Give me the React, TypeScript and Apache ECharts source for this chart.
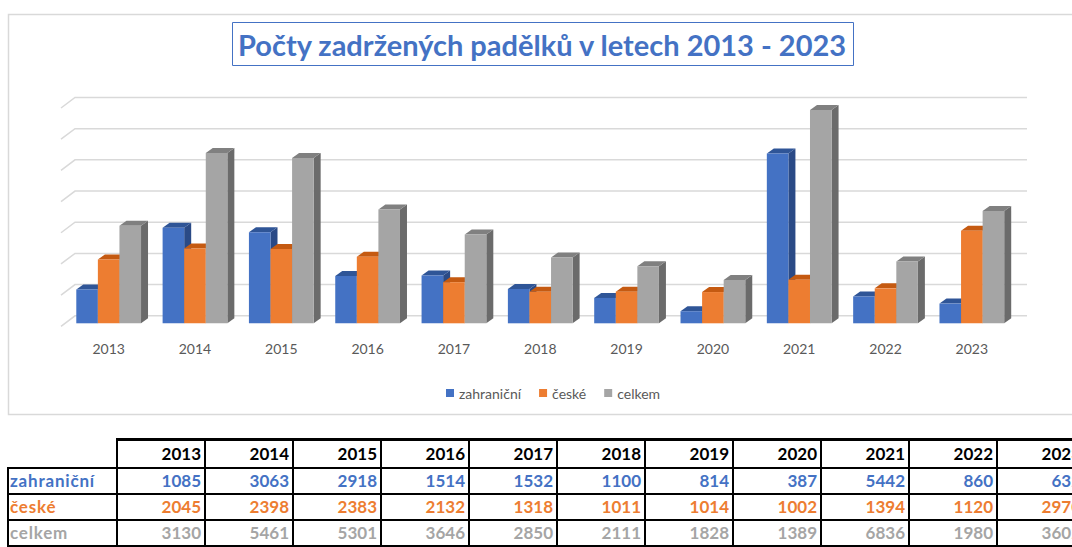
import React, { useEffect, useRef } from "react";
import * as echarts from "echarts";

const years = ["2013", "2014", "2015", "2016", "2017", "2018", "2019", "2020", "2021", "2022", "2023"];
const seriesNames = ["zahraniční", "české", "celkem"];
const zahranicni = [1085, 3063, 2918, 1514, 1532, 1100, 814, 387, 5442, 860, 632];
const ceske = [2045, 2398, 2383, 2132, 1318, 1011, 1014, 1002, 1394, 1120, 2970];
const celkem = [3130, 5461, 5301, 3646, 2850, 2111, 1828, 1389, 6836, 1980, 3602];
const yTicks = [0, 1000, 2000, 3000, 4000, 5000, 6000, 7000];

const COLORS = [
  { front: "#4472C4", top: "#2F5597", side: "#2A4A86" },
  { front: "#ED7D31", top: "#C55A11", side: "#A84C10" },
  { front: "#A5A5A5", top: "#808080", side: "#6B6B6B" },
];
const TEXT_COLORS = ["#4472C4", "#ED7D31", "#A5A5A5"];
const FONT = "Lato, 'Open Sans', sans-serif";

function App() {
  const ref = useRef<HTMLDivElement>(null);

  useEffect(() => {
    if (!ref.current) return;
    const chart = echarts.init(ref.current, null, { renderer: "svg" });
    const allData = [zahranicni, ceske, celkem];
    const DX = 7;
    const DY = 5;

    const barSeries = allData.map((vals, k) => ({
      type: "custom",
      name: seriesNames[k],
      itemStyle: { color: COLORS[k].front },
      z: 3,
      data: years.map((_, i) => [i, vals[i]]),
      encode: { x: 0, y: 1 },
      renderItem: (params: any, api: any) => {
        const idx = api.value(0);
        const v = api.value(1);
        const top = api.coord([idx, v]);
        const base = api.coord([idx, 0]);
        const band = api.size([1, 0])[0];
        const bw = band * 0.25;
        const x0 = top[0] - 1.5 * bw + k * bw;
        const yT = top[1];
        const yB = base[1];
        return {
          type: "group",
          children: [
            {
              type: "polygon",
              shape: {
                points: [
                  [x0 + bw, yT],
                  [x0 + bw + DX, yT - DY],
                  [x0 + bw + DX, yB - DY],
                  [x0 + bw, yB],
                ],
              },
              style: { fill: COLORS[k].side },
            },
            {
              type: "polygon",
              shape: {
                points: [
                  [x0, yT],
                  [x0 + DX, yT - DY],
                  [x0 + bw + DX, yT - DY],
                  [x0 + bw, yT],
                ],
              },
              style: { fill: COLORS[k].top },
            },
            {
              type: "rect",
              shape: { x: x0, y: yT, width: bw, height: yB - yT },
              style: { fill: COLORS[k].front },
            },
          ],
        };
      },
    }));

    const gridSeries = {
      type: "custom",
      name: "grid",
      z: 1,
      silent: true,
      data: yTicks.map((v) => [0, v]),
      encode: { x: 0, y: 1 },
      renderItem: (params: any, api: any) => {
        const cs = params.coordSys;
        const y = api.coord([0, api.value(1)])[1];
        return {
          type: "polyline",
          shape: {
            points: [
              [cs.x - 4.5, y + 3],
              [cs.x + 9.5, y - 7.5],
              [cs.x + cs.width + 12, y - 7.5],
            ],
          },
          style: { stroke: "#d9d9d9", lineWidth: 1.5, fill: null },
        };
      },
    };

    chart.setOption({
      animation: false,
      textStyle: { fontFamily: FONT },
      title: {
        text: "Počty zadržených padělků v letech 2013 - 2023",
        left: 232,
        top: 22,
        borderColor: "#4472C4",
        borderWidth: 1,
        padding: [6, 6, 6, 6],
        textStyle: {
          color: "#4472C4",
          fontFamily: FONT,
          fontWeight: "bold",
          fontSize: 29,
          lineHeight: 32,
        },
      },
      graphic: [
        {
          type: "rect",
          shape: { x: 8.5, y: 14.5, width: 1100, height: 400 },
          style: { stroke: "#d9d9d9", lineWidth: 1.5, fill: "none" },
          z: 0,
          silent: true,
        },
      ],
      legend: {
        left: 441,
        top: 381,
        itemWidth: 8,
        itemHeight: 8,
        itemGap: 18,
        icon: "rect",
        data: seriesNames,
        textStyle: { color: "#595959", fontSize: 14, fontFamily: FONT },
      },
      grid: {
        left: 65.5,
        right: 57,
        top: 105,
        bottom: 430 - 323.3,
        containLabel: false,
      },
      xAxis: {
        type: "category",
        data: years,
        axisLine: { show: false },
        axisTick: { show: false },
        axisLabel: { color: "#595959", fontSize: 14, margin: 18, fontFamily: FONT },
      },
      yAxis: {
        type: "value",
        min: 0,
        max: 7000,
        interval: 1000,
        axisLabel: { show: false },
        axisLine: { show: false },
        axisTick: { show: false },
        splitLine: { show: false },
      },
      series: [gridSeries, ...barSeries],
    });
    return () => chart.dispose();
  }, []);

  const rows = [zahranicni, ceske, celkem];
  const cellBase: React.CSSProperties = {
    border: "2px solid #000",
    padding: "0 3px 0 0",
    textAlign: "right",
    height: 24,
    lineHeight: "24px",
    fontWeight: "bold",
    whiteSpace: "nowrap",
    overflow: "hidden",
  };

  return (
    <div
      style={{
        position: "absolute",
        left: 0,
        top: 0,
        width: 1072,
        height: 547,
        overflow: "hidden",
        background: "#fff",
        fontFamily: FONT,
      }}
    >
      <div ref={ref} style={{ position: "absolute", left: 0, top: 0, width: 1072, height: 430 }} />
      <table
        style={{
          position: "absolute",
          left: 7,
          top: 438,
          borderCollapse: "collapse",
          tableLayout: "fixed",
          width: 109 + 11 * 88,
          fontSize: 17,
          fontFamily: FONT,
        }}
      >
        <colgroup>
          <col style={{ width: 109 }} />
          {years.map((y) => (
            <col key={y} style={{ width: 88 }} />
          ))}
        </colgroup>
        <tbody>
          <tr>
            <td style={{ ...cellBase, borderTop: "none", borderLeft: "none", height: 26 }}></td>
            {years.map((y) => (
              <td key={y} style={{ ...cellBase, color: "#000", height: 26, borderTopWidth: 3 }}>
                {y}
              </td>
            ))}
          </tr>
          {rows.map((vals, r) => (
            <tr key={r}>
              <td
                style={{
                  ...cellBase,
                  textAlign: "left",
                  color: TEXT_COLORS[r],
                  paddingLeft: 1,
                  letterSpacing: 0.8,
                }}
              >
                {seriesNames[r]}
              </td>
              {vals.map((v, i) => (
                <td key={i} style={{ ...cellBase, color: TEXT_COLORS[r] }}>
                  {v}
                </td>
              ))}
            </tr>
          ))}
        </tbody>
      </table>
    </div>
  );
}

export default App;
